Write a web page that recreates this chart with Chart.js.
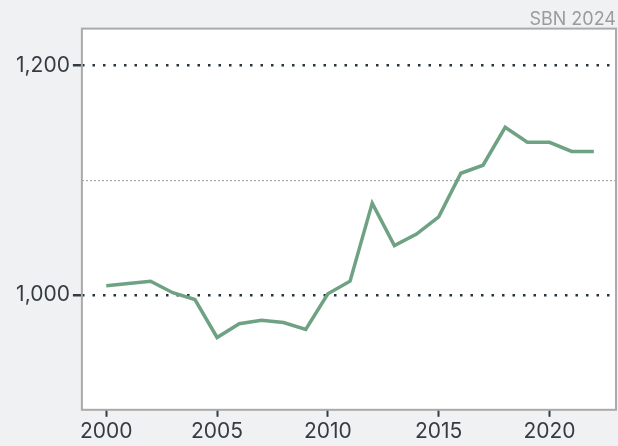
<!DOCTYPE html>
<html>
<head>
<meta charset="utf-8">
<script src="https://cdn.jsdelivr.net/npm/chart.js@4.4.1/dist/chart.umd.min.js"></script>
<style>
  html, body { margin: 0; padding: 0; background: #f0f1f3; }
  #wrap { width: 618px; height: 446px; }
</style>
</head>
<body>
<div id="wrap"><canvas id="lineChart"></canvas></div>
<script>
// data
const years = [2000, 2001, 2002, 2003, 2004, 2005, 2006, 2007, 2008, 2009, 2010,
               2011, 2012, 2013, 2014, 2015, 2016, 2017, 2018, 2019, 2020, 2021, 2022];
const values = [1008, 1010, 1012, 1002, 996, 963, 975, 978, 976, 970, 1001,
                1012, 1080, 1043, 1053, 1068, 1106, 1113, 1146, 1133, 1133, 1125, 1125];
const yMajorTicks = [1000, 1200];
const yMinorTicks = [1100];
const xTicks = [2000, 2005, 2010, 2015, 2020];

const TEXT = '#343c42';
const FRAME = '#aaaaaa';

// white plot panel with a thin grey frame
const panelPlugin = {
    id: 'panel',
    beforeDraw(chart) {
        const { ctx, chartArea: a } = chart;
        ctx.save();
        ctx.fillStyle = '#ffffff';
        ctx.fillRect(a.left, a.top, a.right - a.left, a.bottom - a.top);
        ctx.restore();
    },
    afterDatasetsDraw(chart) {
        const { ctx, chartArea: a } = chart;
        ctx.save();
        ctx.strokeStyle = FRAME;
        ctx.lineWidth = 2;
        ctx.strokeRect(a.left, a.top, a.right - a.left, a.bottom - a.top);
        ctx.restore();
    }
};

new Chart(document.getElementById('lineChart').getContext('2d'), {
    type: 'line',
    data: {
        datasets: [{
            data: years.map((y, i) => ({ x: y, y: values[i] })),
            borderColor: '#6ea283',
            borderWidth: 3.5,
            pointRadius: 0,
            tension: 0,
            borderJoinStyle: 'miter'
        }]
    },
    plugins: [panelPlugin],
    options: {
        responsive: true,
        maintainAspectRatio: false,
        animation: false,
        layout: { padding: { left: 13, right: 2, top: 0, bottom: 0 } },
        plugins: {
            legend: { display: false },
            tooltip: { enabled: false },
            title: {
                display: true,
                text: 'SBN 2024',
                align: 'end',
                color: '#9b9b9b',
                font: { family: 'Inter', size: 18, weight: 'normal' },
                padding: { top: 9, bottom: -2 }
            }
        },
        scales: {
            x: {
                type: 'linear',
                min: 1998.9,
                max: 2023.0,
                afterBuildTicks: axis => { axis.ticks = xTicks.map(v => ({ value: v })); },
                ticks: {
                    color: TEXT,
                    font: { family: 'Inter', size: 21 },
                    padding: 2,
                    maxRotation: 0,
                    callback: v => String(v)
                },
                grid: {
                    drawOnChartArea: false,
                    drawTicks: true,
                    tickLength: 7,
                    tickColor: TEXT,
                    tickWidth: 2
                },
                border: { display: false }
            },
            y: {
                min: 900,
                max: 1232,
                afterBuildTicks: axis => { axis.ticks = yMajorTicks.map(v => ({ value: v })); },
                ticks: {
                    color: TEXT,
                    font: { family: 'Inter', size: 21 },
                    padding: 3,
                    callback: v => v.toLocaleString('en-US')
                },
                grid: {
                    color: '#26343c',
                    lineWidth: 2.5,
                    tickLength: 9,
                    tickColor: TEXT,
                    tickWidth: 2.5
                },
                border: { display: false, dash: [2.5, 8] }
            },
            yMinor: {
                position: 'left',
                min: 900,
                max: 1232,
                afterBuildTicks: axis => { axis.ticks = yMinorTicks.map(v => ({ value: v })); },
                ticks: { display: false },
                grid: {
                    color: '#a8a8a8',
                    lineWidth: 1.2,
                    drawTicks: false
                },
                border: { display: false, dash: [2, 2] }
            }
        }
    }
});
</script>
</body>
</html>
